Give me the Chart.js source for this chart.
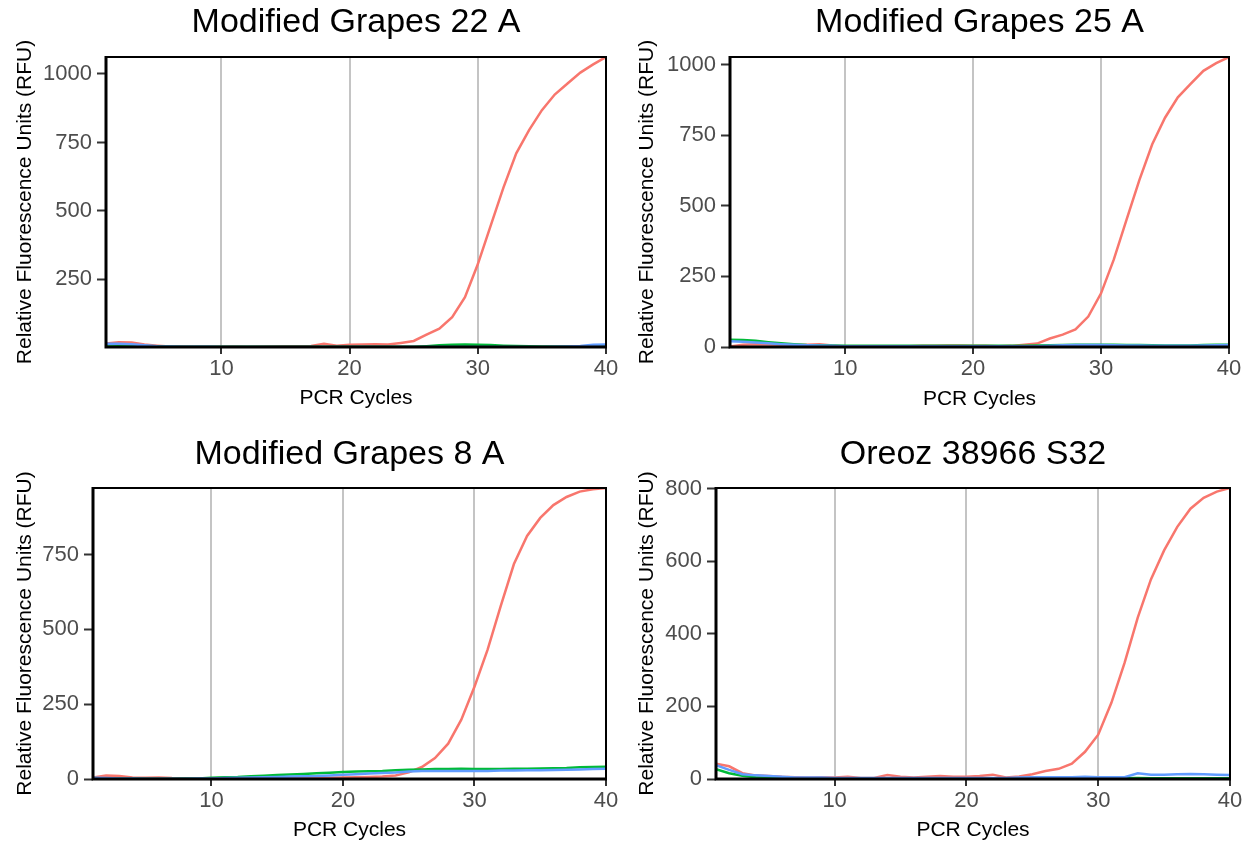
<!DOCTYPE html>
<html>
<head>
<meta charset="utf-8">
<script src="https://cdn.jsdelivr.net/npm/chart.js@4.4.1/dist/chart.umd.min.js"></script>
<style>
html,body{margin:0;padding:0;background:#fff;width:1255px;height:846px;overflow:hidden;}
canvas{position:absolute;}
</style>
</head>
<body>
<canvas id="c1"></canvas>
<canvas id="c2"></canvas>
<canvas id="c3"></canvas>
<canvas id="c4"></canvas>
<script>
// ---------- data ----------
const cycles = [1,2,3,4,5,6,7,8,9,10,11,12,13,14,15,16,17,18,19,20,21,22,23,24,25,26,27,28,29,30,31,32,33,34,35,36,37,38,39,40];
const xTickValues = [10,20,30,40];

const titles = ["Modified Grapes 22 A","Modified Grapes 25 A","Modified Grapes 8 A","Oreoz 38966 S32"];
const xAxisTitle = "PCR Cycles";
const yAxisTitle = "Relative Fluorescence Units (RFU)";

// Modified Grapes 22 A
const g22Red   = [16,20,19,12,8,5,4,3,3,3,4,3,4,5,6,6,7,15,8,11,12,13,12,18,25,48,70,112,185,305,445,585,710,795,868,925,965,1005,1035,1062];
const g22Green = [12,11,9,7,6,5,4,4,4,4,4,4,4,4,4,4,4,4,4,4,4,4,4,4,4,6,9,11,12,11,10,8,7,6,5,5,5,5,5,5];
const g22Blue  = [15,15,13,9,6,5,4,4,4,3,3,3,3,3,3,3,3,3,3,3,3,3,3,3,3,3,3,3,3,3,3,3,3,3,3,4,5,7,11,12];
const g22YTicks = [250,500,750,1000];

// Modified Grapes 25 A
const g25Red   = [2,8,10,9,8,7,8,10,5,2,2,3,2,3,3,4,4,5,5,4,4,3,4,8,12,30,44,62,108,190,310,452,592,718,812,884,932,978,1005,1027];
const g25Green = [26,25,22,17,13,10,7,6,5,4,4,4,4,4,4,4,4,4,4,4,4,4,4,4,5,6,7,8,8,8,8,7,7,6,5,5,5,7,8,8];
const g25Blue  = [20,19,16,13,10,8,6,5,4,3,3,3,3,3,3,3,3,3,3,3,3,3,3,3,3,4,6,7,7,7,6,5,5,4,4,4,4,5,6,7];
const g25YTicks = [0,250,500,750,1000];

// Modified Grapes 8 A
const g8Red   = [5,12,10,5,4,5,3,2,2,2,2,2,2,2,3,3,3,4,4,5,6,7,8,12,22,40,70,118,198,308,432,578,718,812,872,915,942,960,968,972];
const g8Green = [3,2,2,2,1,1,1,2,2,4,6,7,9,11,13,15,17,19,21,23,25,26,27,29,31,32,33,33,34,33,33,33,34,34,35,36,37,39,40,41];
const g8Blue  = [4,3,2,2,1,1,1,1,2,2,3,4,5,6,7,8,9,10,12,14,16,18,20,22,25,27,27,27,27,27,27,28,28,29,29,30,31,32,33,34];
const g8YTicks = [0,250,500,750];

// Oreoz 38966 S32
const orRed   = [42,35,16,10,8,6,5,4,5,4,6,3,3,11,6,4,6,8,6,6,8,12,4,7,13,22,28,42,75,122,210,320,445,550,630,695,745,775,792,802];
const orGreen = [27,16,9,5,3,2,2,2,1,1,1,1,1,1,1,1,1,1,1,1,1,1,1,1,1,1,1,1,2,2,2,2,3,2,2,2,2,2,2,2];
const orBlue  = [38,25,13,10,8,6,4,4,4,3,3,3,3,3,3,3,3,3,3,3,3,3,3,4,5,5,5,5,6,5,5,5,16,12,12,13,14,13,12,11];
const orYTicks = [0,200,400,600,800];

// ---------- layout (page pixels) ----------
const FONT = "'Liberation Sans', Arial, Helvetica, sans-serif";
const panels = [
  {id:'c1', cell:[0,0,627,423],   area:{l:106,r:606,t:57,b:347},  titleCY:23,  yTitleCX:25,  xTitleCY:398,
   title:titles[0], red:g22Red, green:g22Green, blue:g22Blue, yTicks:g22YTicks, yMin:3, yMax:1062},
  {id:'c2', cell:[627,0,628,423], area:{l:730,r:1229,t:57,b:347}, titleCY:23,  yTitleCX:647, xTitleCY:399,
   title:titles[1], red:g25Red, green:g25Green, blue:g25Blue, yTicks:g25YTicks, yMin:0, yMax:1027},
  {id:'c3', cell:[0,423,627,423], area:{l:93,r:606,t:488,b:779},  titleCY:455, yTitleCX:25,  xTitleCY:830,
   title:titles[2], red:g8Red, green:g8Green, blue:g8Blue, yTicks:g8YTicks, yMin:0, yMax:972},
  {id:'c4', cell:[627,423,628,423], area:{l:716,r:1230,t:488,b:779}, titleCY:455, yTitleCX:647, xTitleCY:830,
   title:titles[3], red:orRed, green:orGreen, blue:orBlue, yTicks:orYTicks, yMin:0, yMax:802}
];

const frame = {
  id:'frame',
  afterDatasetsDraw(chart){
    const a = chart.chartArea, ctx = chart.ctx;
    ctx.save();
    ctx.strokeStyle = '#000';
    ctx.lineWidth = 2;
    ctx.beginPath();
    ctx.moveTo(a.left, a.top); ctx.lineTo(a.right, a.top); ctx.lineTo(a.right, a.bottom);
    ctx.stroke();
    ctx.lineWidth = 3;
    ctx.beginPath();
    ctx.moveTo(a.left, a.top-1); ctx.lineTo(a.left, a.bottom); ctx.lineTo(a.right+1, a.bottom);
    ctx.stroke();
    ctx.restore();
  }
};

function toPts(vals){ return cycles.map((c,i)=>({x:c, y:vals[i]})); }

panels.forEach(p=>{
  const [cx,cy,cw,ch] = p.cell;
  const cv = document.getElementById(p.id);
  cv.style.left = cx+'px'; cv.style.top = cy+'px';
  cv.width = cw; cv.height = ch;
  cv.style.width = cw+'px'; cv.style.height = ch+'px';
  const tSize = 34, tPadTop = p.titleCY - cy - tSize/2;
  const tPadBottom = (p.area.t - cy) - tPadTop - tSize;
  const axisLH = 21*1.2;
  const xTitleBottom = p.xTitleCY + axisLH/2;
  new Chart(cv, {
    type:'line',
    data:{datasets:[
      {label:'red',   data:toPts(p.red),   borderColor:'#F8766D', order:2},
      {label:'green', data:toPts(p.green), borderColor:'#00BA38', order:1},
      {label:'blue',  data:toPts(p.blue),  borderColor:'#619CFF', order:0}
    ]},
    options:{
      responsive:false, animation:false, devicePixelRatio:1,
      datasets:{line:{borderWidth:2.5, pointRadius:0, tension:0, fill:false}},
      layout:{padding:{left:0, top:0, right:(cx+cw)-p.area.r, bottom:(cy+ch)-xTitleBottom}},
      plugins:{
        legend:{display:false}, tooltip:{enabled:false},
        title:{display:true, text:p.title, fullSize:false, color:'#000',
               font:{family:FONT, size:tSize, weight:'normal', lineHeight:1},
               padding:{top:tPadTop, bottom:tPadBottom}}
      },
      scales:{
        x:{type:'linear', min:1, max:40,
           afterBuildTicks:s=>{ s.ticks = xTickValues.map(v=>({value:v})); },
           afterFit:s=>{ s.height = xTitleBottom - p.area.b; },
           grid:{color:'#c4c4c4', lineWidth:2, tickColor:'#333', tickLength:7, tickWidth:2},
           border:{display:false},
           ticks:{font:{family:FONT, size:22}, color:'#4d4d4d', padding:2, maxRotation:0, autoSkip:false,
                  callback:v=>String(v)},
           title:{display:true, text:xAxisTitle, color:'#000', font:{family:FONT, size:21}, padding:{top:0,bottom:0}}
        },
        y:{type:'linear', min:p.yMin, max:p.yMax,
           afterBuildTicks:s=>{ s.ticks = p.yTicks.map(v=>({value:v})); },
           afterFit:s=>{ s.width = p.area.l - cx; },
           grid:{drawOnChartArea:false, tickColor:'#333', tickLength:9, tickWidth:2},
           border:{display:false},
           ticks:{font:{family:FONT, size:22}, color:'#4d4d4d', padding:5, autoSkip:false,
                  callback:v=>String(v)},
           title:{display:true, text:yAxisTitle, color:'#000', font:{family:FONT, size:21},
                  padding:{top:p.yTitleCX - cx - axisLH/2, bottom:0}}
        }
      }
    },
    plugins:[frame]
  });
});
</script>
</body>
</html>
